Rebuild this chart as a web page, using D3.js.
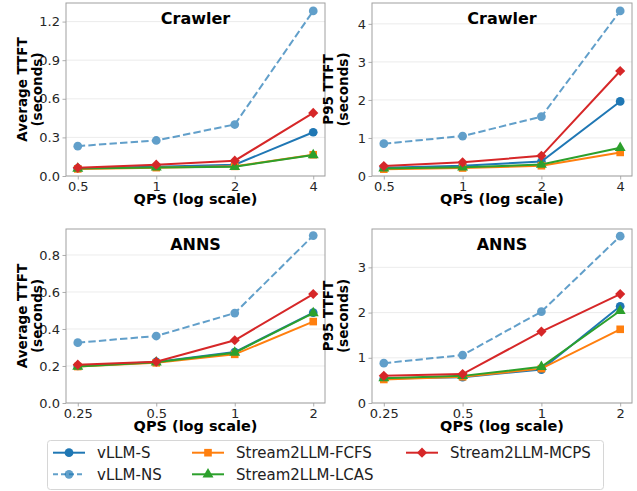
<!DOCTYPE html>
<html>
<head>
<meta charset="utf-8">
<script src="https://cdn.jsdelivr.net/npm/d3@7"></script>
<style>
  body { margin: 0; background: #fff; }
  svg { display: block; font-family: "DejaVu Sans", sans-serif; }
</style>
</head>
<body>
<svg width="637" height="491"></svg>
<script>
"use strict";

// series order: vLLM-S, vLLM-NS, FCFS, LCAS, MCPS
var seriesNames = ["vLLM-S", "vLLM-NS", "Stream2LLM-FCFS", "Stream2LLM-LCAS", "Stream2LLM-MCPS"];

var qpsCrawler = [0.5, 1, 2, 4];
var qpsAnns = [0.25, 0.5, 1, 2];
var qpsCrawlerLabels = ["0.5", "1", "2", "4"];
var qpsAnnsLabels = ["0.25", "0.5", "1", "2"];

var crawlerAvg = [
  [0.060, 0.072, 0.088, 0.340],
  [0.232, 0.276, 0.400, 1.283],
  [0.055, 0.065, 0.075, 0.165],
  [0.058, 0.067, 0.072, 0.163],
  [0.065, 0.088, 0.119, 0.490]
];
var crawlerP95 = [
  [0.22, 0.27, 0.38, 1.96],
  [0.85, 1.05, 1.56, 4.34],
  [0.18, 0.21, 0.27, 0.62],
  [0.20, 0.23, 0.30, 0.74],
  [0.26, 0.36, 0.53, 2.76]
];
var annsAvg = [
  [0.200, 0.222, 0.275, 0.488],
  [0.326, 0.362, 0.486, 0.905],
  [0.197, 0.217, 0.263, 0.440],
  [0.197, 0.220, 0.272, 0.486],
  [0.207, 0.223, 0.339, 0.589]
];
var annsP95 = [
  [0.54, 0.57, 0.74, 2.14],
  [0.88, 1.06, 2.02, 3.69],
  [0.52, 0.58, 0.76, 1.63],
  [0.55, 0.60, 0.80, 2.04],
  [0.60, 0.64, 1.58, 2.41]
];

var crawlerAvgTicks = [0, 0.3, 0.6, 0.9, 1.2];
var crawlerP95Ticks = [0, 1, 2, 3, 4];
var annsAvgTicks = [0, 0.2, 0.4, 0.6, 0.8];
var annsP95Ticks = [0, 1, 2, 3];

var colors = ["#1f77b4", "#1f77b4", "#ff7f0e", "#2ca02c", "#d62728"];
var opac = [1, 0.7, 1, 1, 1];
var dashes = [null, "7.4,3.2", null, null, null];
var symbols = [
  d3.symbol().type(d3.symbolCircle).size(60),
  d3.symbol().type(d3.symbolCircle).size(60),
  d3.symbol().type(d3.symbolSquare).size(58),
  d3.symbol().type(d3.symbolTriangle).size(52),
  d3.symbol().type(d3.symbolDiamond2).size(66)
];

var svg = d3.select("svg");

var panels = [
  {x0: 66, x1: 325, y0: 3, y1: 176, title: "Crawler", ylab: "Average TTFT", qps: qpsCrawler, qlab: qpsCrawlerLabels,
   data: crawlerAvg, ticks: crawlerAvgTicks, fmt: d3.format(".1f")},
  {x0: 372, x1: 632, y0: 3, y1: 176, title: "Crawler", ylab: "P95 TTFT", qps: qpsCrawler, qlab: qpsCrawlerLabels,
   data: crawlerP95, ticks: crawlerP95Ticks, fmt: d3.format("d")},
  {x0: 66, x1: 325, y0: 229, y1: 403, title: "ANNS", ylab: "Average TTFT", qps: qpsAnns, qlab: qpsAnnsLabels,
   data: annsAvg, ticks: annsAvgTicks, fmt: d3.format(".1f")},
  {x0: 372, x1: 632, y0: 229, y1: 403, title: "ANNS", ylab: "P95 TTFT", qps: qpsAnns, qlab: qpsAnnsLabels,
   data: annsP95, ticks: annsP95Ticks, fmt: d3.format("d")}
];

panels.forEach(function(p) {
  // matplotlib style 5% margins
  var lo = Math.log2(p.qps[0]), hi = Math.log2(p.qps[p.qps.length - 1]);
  var pad = (hi - lo) * 0.05;
  var x = d3.scaleLog().base(2)
      .domain([Math.pow(2, lo - pad), Math.pow(2, hi + pad)])
      .range([p.x0, p.x1]);
  var allVals = d3.merge(p.data);
  var ymax = d3.max(allVals) + 0.05 * (d3.max(allVals) - d3.min(allVals));
  var y = d3.scaleLinear().domain([0, ymax]).range([p.y1, p.y0]);

  var g = svg.append("g");

  // grid
  g.selectAll(".grid").data(p.ticks).enter().append("line")
      .attr("x1", p.x0).attr("x2", p.x1)
      .attr("y1", function(d) { return y(d); })
      .attr("y2", function(d) { return y(d); })
      .attr("stroke", "#b0b0b0").attr("stroke-opacity", 0.3).attr("stroke-width", 0.8);

  var xAxis = g.append("g").attr("transform", "translate(0," + p.y1 + ")")
      .call(d3.axisBottom(x).tickValues(p.qps)
        .tickFormat(function(d, i) { return p.qlab[i]; })
        .tickSize(3.5).tickPadding(2.5));
  var yAxis = g.append("g").attr("transform", "translate(" + p.x0 + ",0)")
      .call(d3.axisLeft(y).tickValues(p.ticks).tickFormat(p.fmt).tickSize(3.5).tickPadding(2.5));
  [xAxis, yAxis].forEach(function(a) {
    a.select(".domain").remove();
    a.selectAll(".tick line").attr("stroke", "#999").attr("stroke-width", 0.8);
    a.selectAll(".tick text").attr("fill", "#262626").style("font-size", "13px")
      .style("font-family", "DejaVu Sans, sans-serif");
  });

  g.append("rect")
      .attr("x", p.x0).attr("y", p.y0)
      .attr("width", p.x1 - p.x0).attr("height", p.y1 - p.y0)
      .attr("fill", "none").attr("stroke", "#a0a0a0").attr("stroke-width", 1);

  // series
  p.data.forEach(function(vals, si) {
    var pts = vals.map(function(v, i) { return [p.qps[i], v]; });
    var sg = g.append("g").attr("opacity", opac[si]);
    sg.append("path")
        .datum(pts)
        .attr("fill", "none")
        .attr("stroke", colors[si])
        .attr("stroke-width", 2)
        .attr("stroke-dasharray", dashes[si])
        .attr("d", d3.line().x(function(d) { return x(d[0]); }).y(function(d) { return y(d[1]); }));
    sg.selectAll(".m").data(pts).enter().append("path")
        .attr("transform", function(d) { return "translate(" + x(d[0]) + "," + y(d[1]) + ")"; })
        .attr("d", symbols[si]())
        .attr("fill", colors[si]);
  });

  // title
  g.append("text")
      .attr("x", (p.x0 + p.x1) / 2).attr("y", p.y0 + 21)
      .attr("text-anchor", "middle")
      .style("font-size", "16px").style("font-weight", "bold")
      .text(p.title);

  // x label
  g.append("text")
      .attr("x", (p.x0 + p.x1) / 2).attr("y", p.y1 + 28)
      .attr("text-anchor", "middle")
      .style("font-size", "14.5px").style("font-weight", "bold")
      .text("QPS (log scale)");

  // y label (two lines)
  var cy = (p.y0 + p.y1) / 2;
  var yl = g.append("text")
      .attr("transform", "translate(" + (p.x0 - 39.5) + "," + cy + ") rotate(-90)")
      .attr("text-anchor", "middle")
      .style("font-size", "13.5px").style("font-weight", "bold");
  yl.append("tspan").attr("x", 0).attr("y", 0).text(p.ylab);
  yl.append("tspan").attr("x", 0).attr("y", 15.6).text("(seconds)");
});

// legend
var legX = [53, 192, 406];
var legY = [452.7, 474.3];
var legPos = [[0, 0], [0, 1], [1, 0], [1, 1], [2, 0]];

svg.append("rect")
    .attr("x", 47.5).attr("y", 440.5)
    .attr("width", 556).attr("height", 49)
    .attr("rx", 3)
    .attr("fill", "#fff").attr("stroke", "#d6d6d6").attr("stroke-width", 1);

var leg = svg.selectAll(".leg").data(seriesNames).enter().append("g")
    .attr("transform", function(d, i) {
      return "translate(" + legX[legPos[i][0]] + "," + legY[legPos[i][1]] + ")";
    });
leg.append("line")
    .attr("x1", 0).attr("x2", 32).attr("y1", 0).attr("y2", 0)
    .attr("stroke", function(d, i) { return colors[i]; })
    .attr("stroke-opacity", function(d, i) { return opac[i]; })
    .attr("stroke-width", 2)
    .attr("stroke-dasharray", function(d, i) { return dashes[i] ? "5,3" : null; });
leg.append("path")
    .attr("transform", "translate(16,0)")
    .attr("d", function(d, i) { return symbols[i](); })
    .attr("fill", function(d, i) { return colors[i]; })
    .attr("fill-opacity", function(d, i) { return opac[i]; });
leg.append("text")
    .attr("x", 44).attr("y", 5.5)
    .style("font-size", "15px")
    .attr("fill", "#222")
    .text(function(d) { return d; });
</script>
</body>
</html>
